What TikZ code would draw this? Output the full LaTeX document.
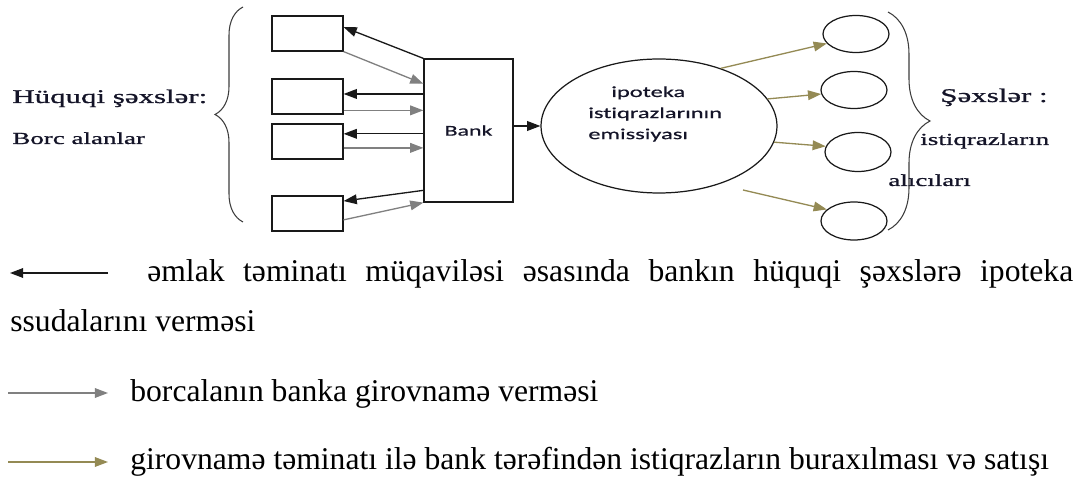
\documentclass[tikz,border=0pt]{standalone}
\usepackage{fontspec}
\setmainfont{Liberation Serif}
\newfontfamily\widesans[FakeStretch=1.6, FakeBold=0.6, Ligatures=NoCommon]{Carlito}
\newfontfamily\wideserif[FakeStretch=1.6, FakeBold=1]{Liberation Serif}
\definecolor{dgblack}{RGB}{25,25,25}
\definecolor{dggray}{RGB}{128,128,128}
\definecolor{dgolive}{RGB}{148,138,84}
\definecolor{dgtext}{RGB}{20,20,40}
\usetikzlibrary{arrows.meta,positioning,shapes.geometric,decorations.pathreplacing}

\begin{document}
\begin{tikzpicture}[x=0.02cm, y=-0.02cm,
  debtor/.style={
    rectangle, draw=dgblack, line width=0.7pt,
    minimum width=1.42cm, minimum height=0.7cm,
    inner sep=0pt
  },
  bankbox/.style={
    rectangle, draw=dgblack, line width=0.7pt,
    minimum width=1.78cm, minimum height=2.86cm,
    font=\widesans\fontsize{8.5}{10}\selectfont,
    text=dgtext
  },
  emisnode/.style={ellipse, draw=dgblack, line width=0.7pt, minimum width=4.72cm, minimum height=2.68cm},
  buyer/.style={ellipse, draw=dgblack, line width=0.7pt, minimum width=1.32cm, minimum height=0.74cm},
  sidelbl/.style={anchor=base west, inner sep=0pt, font=\wideserif\fontsize{11}{13}\selectfont, text=dgtext},
  sidesub/.style={sidelbl, font=\wideserif\fontsize{9.6}{12}\selectfont},
  legtext/.style={anchor=base west, inner sep=0pt, font=\fontsize{18}{22}\selectfont},
  brc/.style={decorate, decoration={brace, amplitude=#1}, draw=dgblack!85, line width=0.6pt},
  loanarr/.style={-{Triangle[length=7.5pt,width=5.5pt]}, line width=0.75pt, draw=dgblack},
  pledgearr/.style={-{Triangle[length=7.5pt,width=5.5pt]}, line width=0.75pt, draw=dggray},
  bondarr/.style={-{Triangle[length=7.5pt,width=5.5pt]}, line width=0.75pt, draw=dgolive}
]
\useasboundingbox (0,0) rectangle (1086,479);

\node[debtor] (b1) at (307.5,33.5) {};
\node[debtor] (b2) at (307.5,96.5) {};
\node[debtor] (b3) at (307.5,141.5) {};
\node[debtor] (b4) at (307.5,213.5) {};
\node[bankbox] (bank) at (468.5,130.5) {Bank};
\node[emisnode] (emis) at (659,126) {};
\node[font=\widesans\fontsize{8.7}{12}\selectfont, text=dgtext, align=left, inner sep=0pt, anchor=north west]
  (emistxt) at (588,86) {\hspace*{0.46cm}ipoteka\\istiqrazlarının\\emissiyası};
\node[buyer] (c1) at (856,34) {};
\node[buyer] (c2) at (854,90) {};
\node[buyer, minimum height=0.78cm] (c3) at (858,152) {};
\node[buyer, minimum height=0.76cm] (c4) at (854,221) {};
\coordinate (a4s) at (743,190);

\draw[loanarr] (bank.north west) -- (b1.10);
\draw[pledgearr] (b1.south east) -- (bank.134);
\draw[loanarr] (b2.4 -| bank.west) -- (b2.4);
\draw[pledgearr] (b2.-21) -- (b2.-21 -| bank.west);
\draw[loanarr] (b3.12 -| bank.west) -- (b3.12);
\draw[pledgearr] (b3.-10) -- (b3.-10 -| bank.west);
\draw[loanarr] (bank.233) -- (b4.19);
\draw[pledgearr] (b4.-10) -- (bank.south west);
\draw[loanarr] (emis.west -| bank.east) -- (emis.west);

\draw[bondarr] (emis.43) -- (c1.198);
\draw[bondarr] (emis.14) -- (c2.187);
\draw[bondarr] (emis.-8) -- (c3.170);
\draw[bondarr] (a4s) -- (c4.157);

\draw[brc=0.56cm] (243,222) -- (243,7);
\draw[brc=0.84cm] (888,12) -- (888,230);

\node[sidelbl] (hsl) at (12,103) {Hüquqi şəxslər:};
\node[sidesub] (bal) at (12,144) {Borc alanlar};
\node[sidelbl] (sxl) at (940,102) {Şəxslər :};
\node[sidesub] (ist) at (920,145) {istiqrazların};
\node[sidesub] (alc) at (888,186) {alıcıları};

\coordinate (k0) at (10,273);
\coordinate (k1) at (108,273);
\coordinate (g0) at (8,393);
\coordinate (g1) at (108,393);
\coordinate (o0) at (8,462);
\coordinate (o1) at (108,462);
\draw[loanarr] (k1) -- (k0);
\draw[pledgearr] (g0) -- (g1);
\draw[bondarr] (o0) -- (o1);

\node[legtext] (leg1) at (147,282)
  {\makebox[18.52cm][s]{əmlak təminatı müqaviləsi əsasında bankın hüquqi şəxslərə ipoteka}};
\node[legtext] (leg1b) at (10,332) {ssudalarını verməsi};
\node[legtext] (leg2) at (130,402) {borcalanın banka girovnamə verməsi};
\node[legtext] (leg3) at (130,470) {girovnamə təminatı ilə bank tərəfindən istiqrazların buraxılması və satışı};
\end{tikzpicture}
\end{document}
